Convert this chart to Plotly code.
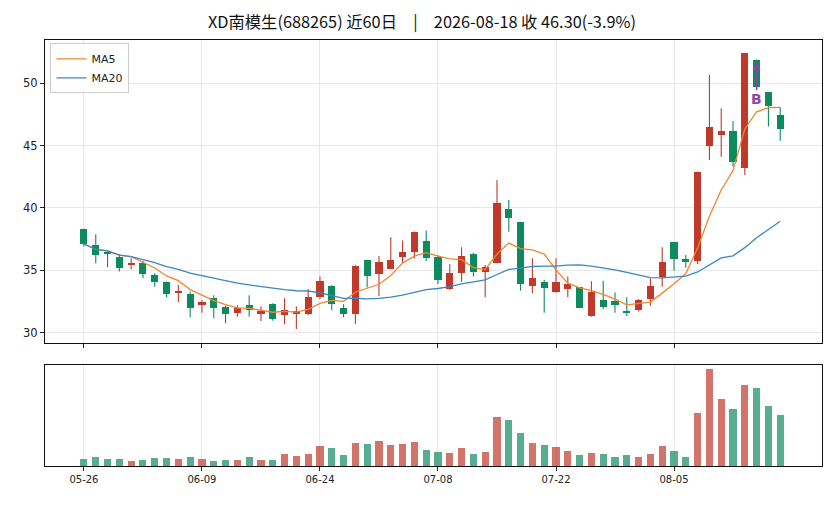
import plotly.graph_objects as go
import pandas as pd

# ---- data ----
tick_idx = [0, 10, 20, 30, 40, 50]
tick_labels = ["05-26", "06-09", "06-24", "07-08", "07-22", "08-05"]

opens = [38.32, 37.03, 36.40, 36.07, 35.50, 35.61, 34.63, 34.07, 33.25, 33.10,
         32.25, 32.76, 32.09, 31.60, 32.22, 31.47, 32.30, 31.44, 31.50, 31.52,
         32.90, 33.75, 31.98, 31.48, 35.83, 34.73, 35.13, 36.07, 36.50, 37.38,
         36.10, 33.53, 34.81, 36.30, 34.89, 35.61, 39.92, 38.88, 33.77, 34.07,
         33.27, 33.53, 33.64, 31.34, 32.62, 32.54, 31.74, 31.82, 32.70, 34.44,
         37.27, 35.91, 35.77, 45.00, 45.88, 46.18, 43.23, 51.87, 49.27, 47.43]
closes = [37.11, 36.25, 36.32, 35.21, 35.58, 34.73, 34.09, 33.13, 33.31, 32.00,
          32.46, 31.96, 31.52, 32.00, 31.80, 31.77, 31.10, 31.85, 31.70, 32.90,
          34.15, 32.33, 31.48, 35.35, 34.57, 35.67, 35.86, 36.47, 38.10, 36.02,
          34.23, 34.80, 36.15, 34.90, 35.24, 40.42, 39.22, 33.90, 34.39, 33.60,
          34.07, 33.88, 32.00, 33.27, 32.09, 32.22, 31.58, 32.62, 33.74, 35.70,
          35.93, 35.70, 42.89, 46.50, 46.20, 43.70, 52.40, 49.73, 48.20, 46.30]
highs = [38.35, 37.90, 36.50, 36.30, 35.96, 35.75, 34.76, 34.10, 33.83, 33.30,
         32.60, 33.00, 32.17, 32.20, 33.00, 32.10, 32.35, 32.76, 32.10, 33.50,
         34.50, 33.80, 32.28, 35.40, 35.85, 36.15, 37.65, 37.40, 38.12, 38.20,
         36.23, 35.48, 36.85, 36.40, 35.43, 42.25, 40.64, 38.90, 35.97, 34.23,
         35.97, 34.50, 33.67, 34.12, 34.17, 33.24, 32.84, 32.70, 34.36, 36.85,
         37.30, 36.23, 42.92, 50.67, 48.00, 46.98, 52.45, 51.90, 49.30, 48.08]
lows = [36.90, 35.57, 35.25, 34.90, 35.08, 34.36, 33.69, 32.84, 32.44, 31.23,
        31.60, 31.15, 30.75, 31.28, 31.28, 30.94, 30.96, 30.67, 30.30, 31.42,
        32.70, 31.80, 31.23, 30.70, 33.64, 32.95, 35.10, 35.56, 35.97, 35.75,
        33.90, 33.42, 34.09, 34.50, 32.84, 35.56, 38.10, 33.37, 33.16, 31.60,
        33.20, 32.84, 31.95, 31.28, 31.88, 31.60, 31.34, 31.70, 32.16, 33.69,
        34.97, 35.20, 35.50, 43.85, 44.10, 43.30, 42.65, 49.50, 46.53, 45.40]
volumes = [7, 9, 7, 7, 5, 6, 8, 8, 7, 9,
           7, 5, 6, 6, 9, 6, 6, 12, 10, 12,
           20, 18, 11, 23, 22, 25, 21, 22, 24, 16,
           14, 13, 18, 12, 14, 49, 46, 33, 23, 21,
           19, 15, 11, 13, 12, 9, 11, 9, 12, 20,
           15, 9, 53, 97, 67, 57, 81, 78, 60, 51]

signal_idx = 57
signal_text = "B"
title_text = "XD南模生(688265) 近60日\u2003|\u20032026-08-18 收 46.30(-3.9%)"

# ---- derived ----
n = len(closes)
idx = list(range(n))
cs = pd.Series(closes)
ma5 = cs.rolling(5, min_periods=1).mean().tolist()
ma20 = cs.rolling(20, min_periods=1).mean().tolist()

RED = "#c0392b"
GREEN = "#0e8a5f"
VRED = "rgba(192,57,43,0.7)"
VGREEN = "rgba(14,138,95,0.7)"

up = [c >= o for o, c in zip(opens, closes)]
MINB = 0.07

fig = go.Figure()

# wicks
for flag, col in ((True, RED), (False, GREEN)):
    wx, wy = [], []
    for i in idx:
        if up[i] == flag:
            wx += [i, i, None]
            wy += [lows[i], highs[i], None]
    fig.add_trace(go.Scatter(x=wx, y=wy, mode="lines", line=dict(color=col, width=1.1),
                             hoverinfo="skip", showlegend=False, xaxis="x", yaxis="y"))

# bodies
for flag, col in ((True, RED), (False, GREEN)):
    bx, bb, bh = [], [], []
    for i in idx:
        if up[i] == flag:
            lo = min(opens[i], closes[i])
            h = abs(closes[i] - opens[i])
            if h < MINB:
                lo = (opens[i] + closes[i]) / 2 - MINB / 2
                h = MINB
            bx.append(i); bb.append(lo); bh.append(h)
    fig.add_trace(go.Bar(x=bx, y=bh, base=bb, width=0.6, marker=dict(color=col, line=dict(width=0)),
                         showlegend=False, xaxis="x", yaxis="y"))

fig.add_trace(go.Scatter(x=idx, y=ma5, mode="lines", name="MA5",
                         line=dict(color="#f0872f", width=1.3), xaxis="x", yaxis="y"))
fig.add_trace(go.Scatter(x=idx, y=ma20, mode="lines", name="MA20",
                         line=dict(color="#3a87c4", width=1.3), xaxis="x", yaxis="y"))

# volume
fig.add_trace(go.Bar(x=idx, y=volumes, width=0.6,
                     marker=dict(color=[VRED if u else VGREEN for u in up], line=dict(width=0)),
                     showlegend=False, xaxis="x2", yaxis="y2"))

FONT = "DejaVu Sans, Noto Sans CJK SC, sans-serif"
TFONT = "Noto Sans CJK SC, DejaVu Sans, sans-serif"
XR = [-3.3, 62.54]
grid = "#e8e8e8"

fig.update_layout(
    width=828, height=498,
    margin=dict(l=37, r=14, t=32, b=40),
    paper_bgcolor="white", plot_bgcolor="white",
    font=dict(family=FONT, color="#222", size=11),
    bargap=0, barmode="overlay",
    title=dict(text=title_text, x=0.5, xanchor="center", y=0.972, yanchor="middle",
               font=dict(size=16.3, family=TFONT, color="#111")),
    showlegend=True,
    legend=dict(x=0.007, y=0.992, xanchor="left", yanchor="top",
                bgcolor="rgba(255,255,255,0.85)", bordercolor="#cccccc", borderwidth=1,
                font=dict(size=11, family=FONT), tracegroupgap=0, itemwidth=30),
    xaxis=dict(domain=[0, 1], range=XR, anchor="y", showticklabels=False,
               tickvals=tick_idx, ticks="outside", ticklen=4, tickcolor="#222",
               showgrid=True, gridcolor=grid, gridwidth=0.8,
               showline=True, linecolor="#111", linewidth=1, mirror=True, zeroline=False),
    yaxis=dict(domain=[0.2887, 1], range=[29.17, 53.47], anchor="x",
               tickvals=[30, 35, 40, 45, 50], ticks="outside", ticklen=4, tickcolor="#222",
               showgrid=True, gridcolor=grid, gridwidth=0.8,
               showline=True, linecolor="#111", linewidth=1, mirror=True, zeroline=False,
               tickfont=dict(size=11.5)),
    xaxis2=dict(domain=[0, 1], range=XR, anchor="y2",
                tickvals=tick_idx, ticktext=tick_labels, ticks="outside", ticklen=4, tickcolor="#222",
                showgrid=True, gridcolor=grid, gridwidth=0.8, tickfont=dict(size=10),
                showline=True, linecolor="#111", linewidth=1, mirror=True, zeroline=False),
    yaxis2=dict(domain=[0, 0.2371], range=[0, 101.5], anchor="x2",
                showticklabels=False, ticks="", showgrid=False,
                showline=True, linecolor="#111", linewidth=1, mirror=True, zeroline=False),
)

fig.add_annotation(x=signal_idx, y=51.7, ax=signal_idx, ay=48.7, xref="x", yref="y",
                   axref="x", ayref="y", text="<b>" + signal_text + "</b>", showarrow=True,
                   arrowhead=2, arrowsize=1, arrowwidth=1.6, arrowcolor="#8e44ad",
                   font=dict(color="#8e44ad", size=14, family=FONT))

fig.write_html("out.html")
